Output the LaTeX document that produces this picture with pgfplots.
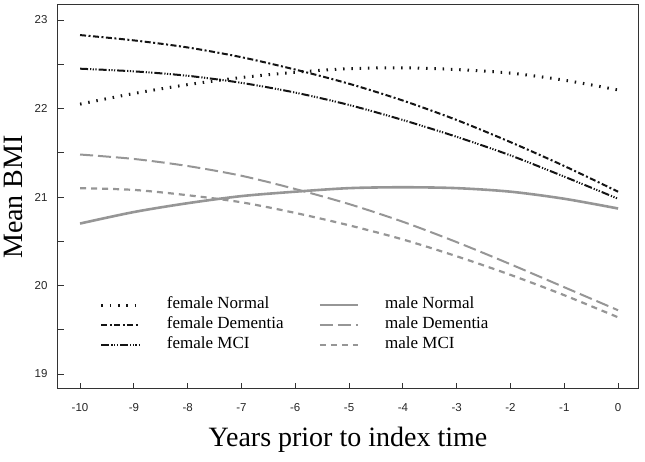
\documentclass[border=0pt]{standalone}
\usepackage{pgfplots}
\usepackage{pgfplotstable}
\pgfplotsset{compat=1.18}
\usepackage{fontspec}
\setmainfont{Liberation Serif}
\newfontfamily\arial{Liberation Sans}
\definecolor{mgray}{RGB}{150,150,150}
\definecolor{fblack}{RGB}{20,20,20}
\pgfplotstableread{
x fN fD fM mN mD mM
-10 22.05 22.83 22.45 20.70 21.48 21.10
-9 22.17 22.77 22.42 20.83 21.43 21.08
-8 22.27 22.69 22.37 20.93 21.35 21.02
-7 22.35 22.58 22.29 21.01 21.24 20.94
-6 22.41 22.44 22.18 21.06 21.09 20.82
-5 22.45 22.28 22.04 21.10 20.92 20.68
-4 22.46 22.09 21.87 21.11 20.72 20.52
-3 22.44 21.87 21.68 21.10 20.49 20.33
-2 22.40 21.62 21.47 21.06 20.24 20.12
-1 22.32 21.35 21.23 20.98 19.98 19.89
0 22.21 21.06 20.98 20.87 19.72 19.64
}\data
\begin{document}
\begin{tikzpicture}
\useasboundingbox (-58pt,-73pt) rectangle (587pt,389pt);
\begin{axis}[
  scale only axis, width=580pt, height=384pt,
  at={(0,0)}, anchor=south west,
  xmin=-10.41, xmax=0.37, ymin=18.83, ymax=23.17,
  xtick={-10,-9,...,0},
  ytick={19,20,21,22,23},
  minor ytick={19.5,20.5,21.5,22.5},
  tick align=inside,
  major tick length=6pt, minor tick length=6pt,
  every tick/.style={black!80, line width=0.8pt},
  axis line style={line width=1pt, black!80},
  xtick pos=bottom, ytick pos=left,
  /pgf/number format/assume math mode=true,
  ticklabel style={font=\arial\fontsize{11.5}{14}\selectfont, black!85},
  xticklabel style={yshift=-11pt},
  yticklabel style={xshift=-7pt},
  xlabel={Years prior to index time},
  ylabel={Mean BMI},
  xlabel style={font=\fontsize{28}{32}\selectfont, at={(axis description cs:0.5,-0.133)}, anchor=center},
  ylabel style={font=\fontsize{28}{32}\selectfont, at={(axis description cs:-0.076,0.5)}, anchor=center},
  legend columns=2,
  legend cell align=left,
  legend style={draw=none, fill=none, font=\fontsize{17}{20}\selectfont,
    at={(axis description cs:0.072,0.245)}, anchor=north west,
    row sep=0pt, inner sep=0pt,
    nodes={inner sep=0pt, text height=13pt, text depth=7pt},
    /tikz/every odd column/.append style={column sep=26pt},
    /tikz/every even column/.append style={column sep=35pt}},
  legend image code/.code={\draw[#1] (0pt,0pt) -- (38pt,0pt);},
]
\addplot[fblack, line width=3pt, dash pattern=on 1.5pt off 6.8pt, smooth] table[x=x,y=fN] {\data};
\addlegendentry{female Normal}
\addplot[mgray, line width=2.6pt, smooth] table[x=x,y=mN] {\data};
\addlegendentry{male Normal}
\addplot[fblack, line width=2pt, dash pattern=on 6pt off 2.5pt on 2pt off 2.5pt, smooth] table[x=x,y=fD] {\data};
\addlegendentry{female Dementia}
\addplot[mgray, line width=2pt, dash pattern=on 13pt off 5pt, smooth] table[x=x,y=mD] {\data};
\addlegendentry{male Dementia}
\addplot[fblack, line width=2pt, dash pattern=on 8pt off 2pt on 1.2pt off 1.5pt on 1.2pt off 1.5pt on 1.2pt off 2pt, smooth] table[x=x,y=fM] {\data};
\addlegendentry{female MCI}
\addplot[mgray, line width=2.2pt, dash pattern=on 6pt off 5pt, smooth] table[x=x,y=mM] {\data};
\addlegendentry{male MCI}
\end{axis}
\end{tikzpicture}
\end{document}
